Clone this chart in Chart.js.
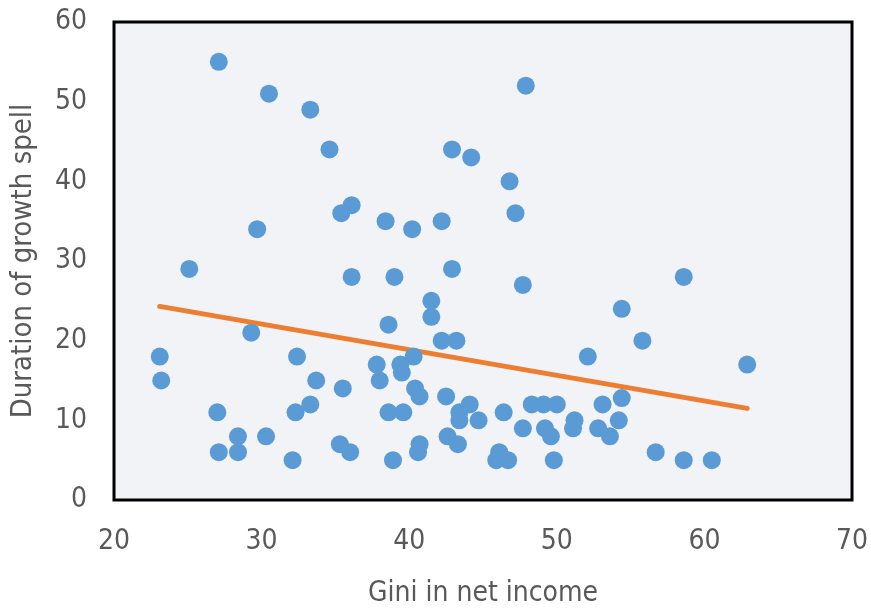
<!DOCTYPE html>
<html>
<head>
<meta charset="utf-8">
<script src="https://cdn.jsdelivr.net/npm/chart.js@4"></script>
<style>
  html, body { margin: 0; padding: 0; background: #fff; }
  #wrap { width: 871px; height: 611px; }
</style>
</head>
<body>
<div id="wrap"><canvas id="giniChart" width="871" height="611"></canvas></div>
<script>
// Gini (x) vs duration of growth spell (y)
const giniValues = [
    27.1, 30.5, 33.3, 34.6, 42.9, 44.2, 47.9, 46.8, 47.2,
    36.1, 35.4, 38.4, 42.2, 40.2, 29.7,
    25.1, 36.1, 39.0, 42.9, 47.7, 58.6,
    41.5, 41.5, 54.4, 38.6, 29.3, 42.2, 43.2, 55.8,
    23.1, 32.4, 52.1, 62.9, 37.8, 39.4, 40.3, 39.5,
    23.2, 33.7, 38.0, 35.5, 40.4, 40.7, 42.5, 54.4,
    27.0, 32.3, 33.3, 38.6, 39.6, 44.1, 43.4, 43.4, 44.7, 46.4,
    48.3, 49.1, 50.0, 53.1, 47.7, 49.2, 49.6, 51.2, 51.1, 52.8, 53.6, 54.2,
    28.4, 30.3, 35.3, 36.0, 42.6, 43.3, 40.7, 40.6,
    27.1, 28.4, 32.1, 38.9, 46.1, 45.9, 46.7, 49.8, 56.7, 58.6, 60.5
];
const spellYears = [
    55, 51, 49, 44, 44, 43, 52, 40, 36,
    37, 36, 35, 35, 34, 34,
    29, 28, 28, 29, 27, 28,
    25, 23, 24, 22, 21, 20, 20, 20,
    18, 18, 18, 17, 17, 17, 18, 16,
    15, 15, 15, 14, 14, 13, 13, 12.8,
    11, 11, 12, 11, 11, 12, 11, 10, 10, 11,
    12, 12, 12, 12, 9, 9, 8, 10, 9, 9, 8, 10,
    8, 8, 7, 6, 8, 7, 7, 6,
    6, 6, 5, 5, 6, 5, 5, 5, 6, 5, 5
];

// linear trend (start and end of the orange line)
const trendX = [23.1, 62.9];
const trendY = [24.3, 11.5];

const xTicks = [20, 30, 40, 50, 60, 70];
const yTicks = [0, 10, 20, 30, 40, 50, 60];

const xTitle = 'Gini in net income';
const yTitle = 'Duration of growth spell';

const axisFont = "'DejaVu Sans Condensed', 'Liberation Sans Narrow', sans-serif";
const textColor = '#595959';

// grey plot background + black frame round the chart area
const plotFrame = {
    id: 'plotFrame',
    beforeDatasetsDraw: function(chart) {
        const { ctx, chartArea } = chart;
        ctx.save();
        ctx.fillStyle = '#F2F3F6';
        ctx.fillRect(chartArea.left, chartArea.top, chartArea.right - chartArea.left, chartArea.bottom - chartArea.top);
        ctx.restore();
    },
    afterDatasetsDraw: function(chart) {
        const { ctx, chartArea } = chart;
        ctx.save();
        ctx.strokeStyle = '#000';
        ctx.lineWidth = 3;
        ctx.strokeRect(chartArea.left, chartArea.top, chartArea.right - chartArea.left, chartArea.bottom - chartArea.top);
        ctx.restore();
    }
};

const points = giniValues.map((g, i) => ({ x: g, y: spellYears[i] }));
const trend = trendX.map((g, i) => ({ x: g, y: trendY[i] }));

new Chart(document.getElementById('giniChart').getContext('2d'), {
    type: 'scatter',
    data: {
        datasets: [{
            label: 'Spells',
            data: points,
            backgroundColor: '#5B9BD5',
            borderColor: '#5B9BD5',
            pointRadius: 9,
            borderWidth: 0,
            order: 1 // drawn on top of the trend line
        }, {
            label: 'Trend',
            data: trend,
            showLine: true,
            borderColor: '#ED7D31',
            borderWidth: 5,
            borderCapStyle: 'round',
            pointRadius: 0,
            order: 2
        }]
    },
    options: {
        responsive: false,
        animation: false,
        devicePixelRatio: 1,
        layout: {
            padding: { top: 22, right: 19, left: 0, bottom: 0 }
        },
        plugins: {
            legend: { display: false },
            tooltip: { enabled: false }
        },
        scales: {
            x: {
                type: 'linear',
                min: 20,
                max: 70,
                afterBuildTicks: function(axis) {
                    axis.ticks = xTicks.map(v => ({ value: v }));
                },
                afterFit: function(axis) {
                    axis.height = 111;
                    axis.paddingLeft = 0;
                    axis.paddingRight = 0;
                },
                grid: { display: false, drawTicks: false },
                border: { display: false },
                ticks: {
                    padding: 25,
                    color: textColor,
                    font: { family: axisFont, size: 28 }
                },
                title: {
                    display: true,
                    text: xTitle,
                    color: textColor,
                    font: { family: axisFont, size: 28 },
                    padding: { top: 0, bottom: 0 }
                }
            },
            y: {
                type: 'linear',
                min: 0,
                max: 60,
                afterBuildTicks: function(axis) {
                    axis.ticks = yTicks.map(v => ({ value: v }));
                },
                afterFit: function(axis) {
                    axis.width = 114;
                    axis.paddingTop = 0;
                    axis.paddingBottom = 0;
                },
                grid: { display: false, drawTicks: false },
                border: { display: false },
                ticks: {
                    padding: 27,
                    color: textColor,
                    font: { family: axisFont, size: 28 }
                },
                title: {
                    display: true,
                    text: yTitle,
                    color: textColor,
                    font: { family: axisFont, size: 29 },
                    padding: { top: 6, bottom: 0 }
                }
            }
        }
    },
    plugins: [plotFrame]
});
</script>
</body>
</html>
